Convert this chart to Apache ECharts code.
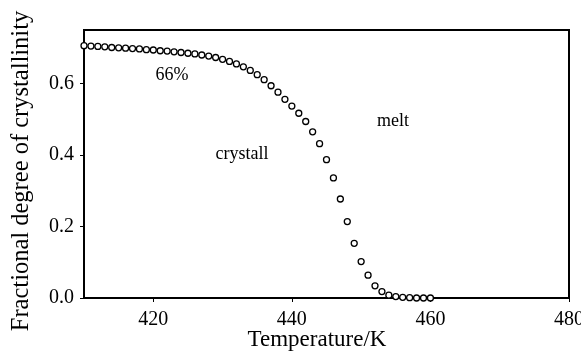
<!DOCTYPE html>
<html>
<head>
<meta charset="utf-8">
<script src="https://cdn.jsdelivr.net/npm/echarts@6/dist/echarts.min.js"></script>
<style>
  html, body { margin: 0; padding: 0; background: #fff; }
  #chart { width: 581px; height: 351px; }
</style>
</head>
<body>
<div id="chart"></div>
<script>
// temperature (K) and fractional degree of crystallinity
const temps = [410, 411, 412, 413, 414, 415, 416, 417, 418, 419,
  420, 421, 422, 423, 424, 425, 426, 427, 428, 429,
  430, 431, 432, 433, 434, 435, 436, 437, 438, 439,
  440, 441, 442, 443, 444, 445, 446, 447, 448, 449,
  450, 451, 452, 453, 454, 455, 456, 457, 458, 459, 460]
const crystallinity = [0.706, 0.705, 0.704, 0.703, 0.701, 0.700, 0.699, 0.698, 0.697, 0.695,
  0.694, 0.692, 0.691, 0.689, 0.687, 0.685, 0.683, 0.680, 0.677, 0.673,
  0.668, 0.662, 0.655, 0.647, 0.637, 0.625, 0.611, 0.594, 0.576, 0.556,
  0.537, 0.517, 0.494, 0.465, 0.432, 0.387, 0.336, 0.277, 0.214, 0.153,
  0.102, 0.064, 0.034, 0.018, 0.008, 0.004, 0.002, 0.001, 0.000, 0.000, 0.000]
const xTicks = [420, 440, 460, 480]
// annotations: [x, y, text]
const notes = [
  [422.7, 0.622, '66%'],
  [432.8, 0.401, 'crystall'],
  [454.6, 0.494, 'melt']
]

const serif = "'Liberation Serif', 'Times New Roman', serif"
const chart = echarts.init(document.getElementById('chart'))

chart.setOption({
  animation: false,
  backgroundColor: '#fff',
  grid: {
    left: 84, right: 12, top: 30, bottom: 53,
    outerBoundsMode: 'none',
    containLabel: false,
    show: true, borderColor: '#000', borderWidth: 2
  },
  xAxis: {
    type: 'value',
    min: 410, max: 480,
    name: 'Temperature/K',
    nameLocation: 'middle',
    nameGap: 30,
    nameMoveOverlap: false,
    nameTextStyle: { fontFamily: serif, fontSize: 23, color: '#000', padding: [0, 19, 0, 0] },
    axisLine: { lineStyle: { color: '#000', width: 2 } },
    axisTick: { customValues: xTicks, length: 4, lineStyle: { color: '#000', width: 1 } },
    axisLabel: { customValues: xTicks, fontFamily: serif, fontSize: 20, color: '#000', margin: 12 },
    splitLine: { show: false }
  },
  yAxis: {
    type: 'value',
    min: 0, max: 0.75, interval: 0.2,
    name: 'Fractional degree of crystallinity',
    nameLocation: 'middle',
    nameGap: 50,
    nameMoveOverlap: false,
    nameTextStyle: { fontFamily: serif, fontSize: 24.5, color: '#000', padding: [0, 14, 0, 0] },
    axisLine: { show: true, lineStyle: { color: '#000', width: 2 } },
    axisTick: { show: true, length: 4, lineStyle: { color: '#000', width: 1 } },
    axisLabel: {
      fontFamily: serif, fontSize: 20, color: '#000', margin: 10,
      showMaxLabel: false,
      formatter: v => v.toFixed(1)
    },
    splitLine: { show: false }
  },
  series: [
    {
      type: 'scatter',
      data: temps.map((t, i) => [t, crystallinity[i]]),
      symbol: 'circle',
      symbolSize: 6,
      itemStyle: { color: '#fff', borderColor: '#000', borderWidth: 1.3, opacity: 1 }
    },
    {
      type: 'scatter',
      data: notes,
      symbolSize: 0,
      silent: true,
      itemStyle: { opacity: 1 },
      label: {
        show: true,
        position: 'inside',
        formatter: p => p.data[2],
        fontFamily: serif, fontSize: 18, color: '#000'
      }
    }
  ]
})
</script>
</body>
</html>
